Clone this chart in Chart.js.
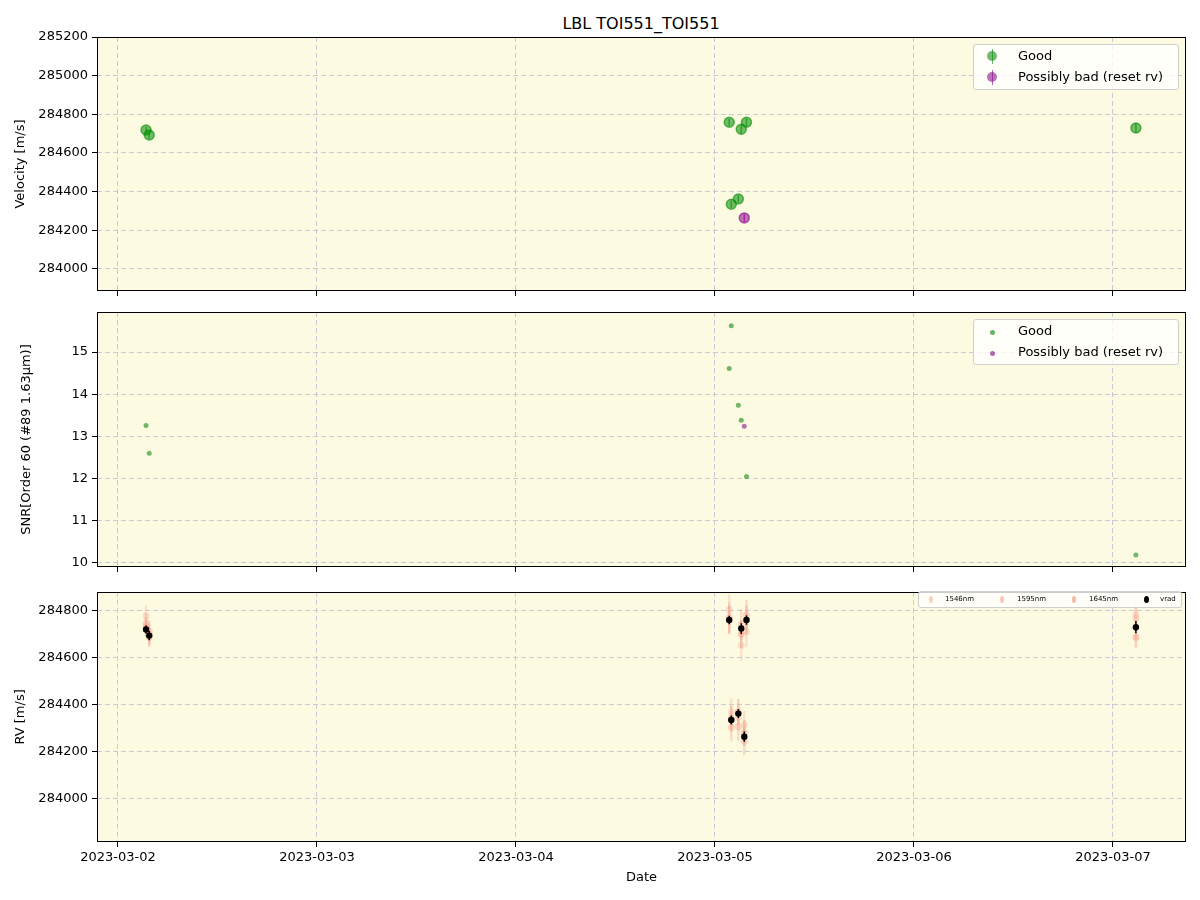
<!DOCTYPE html>
<html>
<head>
<meta charset="utf-8">
<script src="https://cdn.jsdelivr.net/npm/chart.js@4.4.1/dist/chart.umd.min.js"></script>
<style>
body { margin: 0; background: #fff; font-family: "DejaVu Sans", sans-serif; }
#wrap { position: relative; width: 1200px; height: 900px; overflow: hidden; }
canvas { position: absolute; left: 0; }
.title { position: absolute; top: 14px; left: 441px; width: 400px; text-align: center; font-size: 16px; color: #000; }
.leg { position: absolute; background: rgba(255,255,255,0.8); border: 1px solid #d0d0d0; border-radius: 3px; box-sizing: border-box; }
.leg .it { position: absolute; white-space: nowrap; color: #000; }
.leg .mk { position: absolute; border-radius: 50%; }
.leg .bar { position: absolute; width: 1px; }
</style>
</head>
<body>
<div id="wrap">
  <div class="title">LBL TOI551_TOI551</div>
  <canvas id="c1" width="1200" height="308" style="top:0"></canvas>
  <canvas id="c2" width="1200" height="284" style="top:300px"></canvas>
  <canvas id="c3" width="1200" height="320" style="top:580px"></canvas>

  <div class="leg" style="left:973px;top:44px;width:206px;height:46px;font-size:13px">
    <div class="bar" style="left:18px;top:4px;height:15px;background:rgba(0,128,0,0.6)"></div>
    <div class="mk" style="left:13px;top:6px;width:10px;height:10px;background:rgba(20,140,20,0.6)"></div>
    <div class="it" style="left:44px;top:3px">Good</div>
    <div class="bar" style="left:18px;top:25px;height:15px;background:rgba(128,0,128,0.6)"></div>
    <div class="mk" style="left:13px;top:27px;width:10px;height:10px;background:rgba(140,20,140,0.6)"></div>
    <div class="it" style="left:44px;top:24px">Possibly bad (reset rv)</div>
  </div>

  <div class="leg" style="left:973px;top:319px;width:206px;height:46px;font-size:13px">
    <div class="mk" style="left:16px;top:10px;width:5px;height:5px;background:rgba(0,128,0,0.6)"></div>
    <div class="it" style="left:44px;top:3px">Good</div>
    <div class="mk" style="left:16px;top:31px;width:5px;height:5px;background:rgba(128,0,128,0.6)"></div>
    <div class="it" style="left:44px;top:24px">Possibly bad (reset rv)</div>
  </div>

  <div class="leg" style="left:918px;top:591px;width:264px;height:17px;font-size:7px">
    <div class="mk" style="left:10px;top:4px;width:4px;height:7px;background:rgba(250,195,175,0.8)"></div>
    <div class="it" style="left:26px;top:3px">1546nm</div>
    <div class="mk" style="left:81px;top:4px;width:4px;height:7px;background:rgba(248,185,165,0.8)"></div>
    <div class="it" style="left:98px;top:3px">1595nm</div>
    <div class="mk" style="left:153px;top:4px;width:4px;height:7px;background:rgba(245,165,140,0.8)"></div>
    <div class="it" style="left:170px;top:3px">1645nm</div>
    <div class="mk" style="left:225px;top:4px;width:5px;height:7px;background:#000"></div>
    <div class="it" style="left:241px;top:3px">vrad</div>
  </div>
</div>

<script>
// observation times (UTC)
const goodTimes = ['2023-03-02T03:23', '2023-03-02T03:46', '2023-03-05T01:43', '2023-03-05T01:58',
                   '2023-03-05T02:49', '2023-03-05T03:10', '2023-03-05T03:48', '2023-03-07T02:46'];
const badTimes = ['2023-03-05T03:32'];
const allTimes = ['2023-03-02T03:23', '2023-03-02T03:46', '2023-03-05T01:43', '2023-03-05T01:58',
                  '2023-03-05T02:49', '2023-03-05T03:10', '2023-03-05T03:32', '2023-03-05T03:48', '2023-03-07T02:46'];

// velocities
const goodVel = [284719, 284693, 284759, 284335, 284362, 284723, 284759, 284729];
const goodErr = [17, 20, 18, 19, 19, 23, 20, 26];
const badVel = [284264];
const badErr = [22];

// SNR
const goodSnr = [13.26, 12.60, 14.61, 15.62, 13.74, 13.38, 12.05, 10.19];
const badSnr = [13.24];

// per-band RV
const vrad    = [284719, 284693, 284759, 284335, 284362, 284723, 284264, 284759, 284729];
const vradErr = [17, 20, 18, 19, 19, 23, 22, 20, 26];
const rv1546  = [284776, 284700, 284804, 284367, 284346, 284651, 284314, 284708, 284783];
const rv1595  = [284745, 284712, 284770, 284304, 284307, 284740, 284246, 284780, 284767];
const rv1645  = [284730, 284688, 284760, 284340, 284370, 284700, 284280, 284760, 284686];
const err1546 = [45, 45, 65, 60, 60, 65, 60, 65, 50];
const err1595 = [45, 45, 65, 60, 60, 65, 60, 65, 50];
const err1645 = [40, 42, 60, 55, 55, 60, 55, 60, 45];

// ticks
const dateTicks = ['2023-03-02', '2023-03-03', '2023-03-04', '2023-03-05', '2023-03-06', '2023-03-07'];
const velTicks = [284000, 284200, 284400, 284600, 284800, 285000, 285200];
const snrTicks = [10, 11, 12, 13, 14, 15];
const rvTicks = [284000, 284200, 284400, 284600, 284800];

const day0 = Date.parse('2023-03-02T00:00:00Z');
const toDay = s => (Date.parse(s + ':00Z') - day0) / 86400000;
const pts = (times, vals) => times.map((t, i) => ({x: toDay(t), y: vals[i]}));

const xMin = -0.1055, xMax = 5.367;
const gridColor = 'rgba(195,195,215,0.9)';
const bg = 'rgb(252,251,226)';
const font13 = {family: '"DejaVu Sans"', size: 13};

const frame = {
  id: 'frame',
  beforeDraw(chart) {
    const {ctx, chartArea: a} = chart;
    ctx.save();
    ctx.fillStyle = bg;
    ctx.fillRect(a.left, a.top, a.right - a.left, a.bottom - a.top);
    ctx.restore();
  },
  afterDraw(chart) {
    const {ctx, chartArea: a} = chart;
    ctx.save();
    ctx.strokeStyle = '#000';
    ctx.lineWidth = 1;
    ctx.strokeRect(Math.round(a.left) + 0.5, Math.round(a.top) + 0.5,
                   Math.round(a.right - a.left) - 1, Math.round(a.bottom - a.top) - 1);
    ctx.restore();
  }
};

// vertical error bars drawn under each dataset's markers
const errBars = {
  id: 'errBars',
  beforeDatasetDraw(chart, args) {
    const ds = chart.data.datasets[args.index];
    if (!ds.errors) return;
    const ctx = chart.ctx, ys = chart.scales.y;
    ctx.save();
    ctx.strokeStyle = ds.errColor || ds.borderColor;
    ctx.lineWidth = ds.errWidth || 1.5;
    args.meta.data.forEach((p, i) => {
      const v = ds.data[i].y, e = ds.errors[i];
      ctx.beginPath();
      ctx.moveTo(p.x, ys.getPixelForValue(v - e));
      ctx.lineTo(p.x, ys.getPixelForValue(v + e));
      ctx.stroke();
    });
    ctx.restore();
  }
};

function opts(c) {
  return {
    responsive: false,
    animation: false,
    events: [],
    layout: {padding: {top: c.top, right: 14, left: 0, bottom: 0}},
    plugins: {legend: {display: false}, tooltip: {enabled: false}},
    scales: {
      x: {
        type: 'linear', min: xMin, max: xMax,
        afterBuildTicks: s => { s.ticks = dateTicks.map(d => ({value: toDay(d + 'T00:00')})); },
        afterFit: s => { s.height = c.xh; },
        grid: {color: gridColor, lineWidth: 1, tickColor: '#000', tickLength: 5, tickWidth: 1},
        border: {display: false, dash: [5, 3]},
        ticks: {display: c.xlabels, autoSkip: false, maxRotation: 0, padding: 3, color: '#000', font: font13,
                callback: (v, i) => dateTicks[i]},
        title: {display: c.xlabels, text: 'Date', color: '#000', font: font13, padding: {top: 0, bottom: 15}}
      },
      y: {
        type: 'linear', min: c.ymin, max: c.ymax,
        afterBuildTicks: s => { s.ticks = c.yticks.map(v => ({value: v})); },
        afterFit: s => { s.width = 97; },
        grid: {color: gridColor, lineWidth: 1, tickColor: '#000', tickLength: 5, tickWidth: 1},
        border: {display: false, dash: [5, 3]},
        ticks: {padding: 4, color: '#000', font: font13, callback: v => String(v)},
        title: {display: true, text: c.ytitle, color: '#000', font: font13, padding: {top: c.tpad, bottom: 0}}
      }
    }
  };
}

new Chart(document.getElementById('c1'), {
  type: 'scatter',
  data: {datasets: [
    {data: pts(goodTimes, goodVel), errors: goodErr, pointRadius: 5, borderWidth: 1.5,
     backgroundColor: 'rgba(0,140,0,0.55)', borderColor: 'rgba(0,140,0,0.6)'},
    {data: pts(badTimes, badVel), errors: badErr, pointRadius: 5, borderWidth: 1.5,
     backgroundColor: 'rgba(140,0,140,0.55)', borderColor: 'rgba(140,0,140,0.6)'}
  ]},
  options: opts({top: 37, xh: 17, xlabels: false, ymin: 283886, ymax: 285200, yticks: velTicks,
                 ytitle: 'Velocity [m/s]', tpad: 13}),
  plugins: [frame, errBars]
});

new Chart(document.getElementById('c2'), {
  type: 'scatter',
  data: {datasets: [
    {data: pts(goodTimes, goodSnr), pointRadius: 2.5, borderWidth: 0,
     backgroundColor: 'rgba(0,128,0,0.55)'},
    {data: pts(badTimes, badSnr), pointRadius: 2.5, borderWidth: 0,
     backgroundColor: 'rgba(128,0,128,0.55)'}
  ]},
  options: opts({top: 12, xh: 17, xlabels: false, ymin: 9.905, ymax: 15.948, yticks: snrTicks,
                 ytitle: 'SNR[Order 60 (#89 1.63μm)]', tpad: 19}),
  plugins: [frame, errBars]
});

new Chart(document.getElementById('c3'), {
  type: 'scatter',
  data: {datasets: [
    {data: pts(allTimes, vrad), errors: vradErr, pointRadius: 3.2, borderWidth: 0,
     backgroundColor: '#000', borderColor: '#000', errWidth: 1.5},
    {data: pts(allTimes, rv1645), errors: err1645, pointRadius: 3.5, borderWidth: 0,
     backgroundColor: 'rgba(244,160,135,0.5)', errColor: 'rgba(244,160,135,0.45)', errWidth: 2.5},
    {data: pts(allTimes, rv1595), errors: err1595, pointRadius: 3.5, borderWidth: 0,
     backgroundColor: 'rgba(248,180,160,0.5)', errColor: 'rgba(248,180,160,0.45)', errWidth: 2.5},
    {data: pts(allTimes, rv1546), errors: err1546, pointRadius: 3.5, borderWidth: 0,
     backgroundColor: 'rgba(250,195,175,0.5)', errColor: 'rgba(250,195,175,0.45)', errWidth: 2.5}
  ]},
  options: opts({top: 7, xh: 58, xlabels: true, ymin: 283817, ymax: 284879, yticks: rvTicks,
                 ytitle: 'RV [m/s]', tpad: 13}),
  plugins: [frame, errBars]
});
</script>
</body>
</html>
